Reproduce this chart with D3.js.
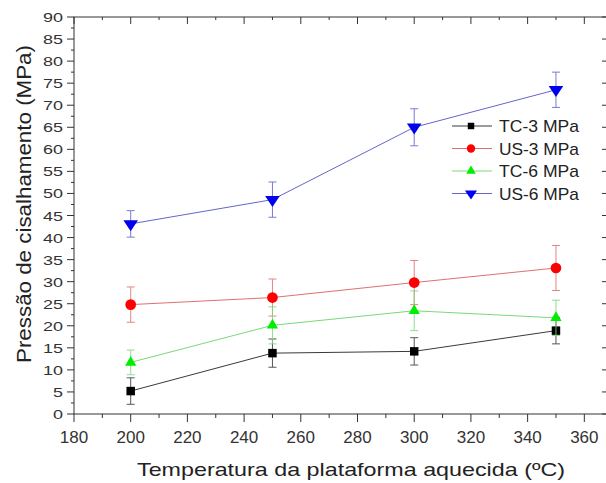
<!DOCTYPE html>
<html>
<head>
<meta charset="utf-8">
<script src="https://cdn.jsdelivr.net/npm/d3@7"></script>
<style>
  body { margin: 0; background: #fff; }
  svg { font-family: "Liberation Sans", Arial, sans-serif; }
</style>
</head>
<body>
<div id="chart"></div>
<script>
// temperatures (ºC)
const temps = [200, 250, 300, 350];
// shear pressure means and error bars (MPa)
const tc3 = [5.2, 13.8, 14.2, 18.9];
const tc3Err = [3.0, 3.2, 3.1, 3.0];
const us3 = [24.8, 26.4, 29.8, 33.1];
const us3Err = [4.0, 4.2, 5.0, 5.1];
const tc6 = [11.7, 20.1, 23.4, 21.8];
const tc6Err = [2.8, 4.2, 4.5, 4.0];
const us6 = [43.1, 48.6, 65.0, 73.5];
const us6Err = [3.0, 4.0, 4.2, 4.0];
const xTicks = [180, 200, 220, 240, 260, 280, 300, 320, 340, 360];
const yTicks = [0, 5, 10, 15, 20, 25, 30, 35, 40, 45, 50, 55, 60, 65, 70, 75, 80, 85, 90];

const series = [
  { name: "TC-3 MPa", values: tc3, err: tc3Err, color: "#000000", line: "#3a3a3a", symbol: d3.symbolSquare, size: 72, leg: 42 },
  { name: "US-3 MPa", values: us3, err: us3Err, color: "#ff0000", line: "#e07070", symbol: d3.symbolCircle, size: 90, leg: 55 },
  { name: "TC-6 MPa", values: tc6, err: tc6Err, color: "#00ee00", line: "#7ad87a", symbol: d3.symbolTriangle, size: 55, leg: 40 },
  { name: "US-6 MPa", values: us6, err: us6Err, color: "#0000ee", line: "#6464cc", symbol: d3.symbolTriangle, size: 70, leg: 48, flip: true },
];

const W = 606, H = 483;
const svg = d3.select("#chart").append("svg").attr("width", W).attr("height", H);

const x = d3.scaleLinear().domain([180, 368]).range([74, 607]);
const y = d3.scaleLinear().domain([0, 90]).range([414, 17]);

const axisColor = "#333";
svg.append("rect")
  .attr("x", x(180)).attr("y", y(90))
  .attr("width", x(368) - x(180)).attr("height", y(0) - y(90))
  .attr("fill", "none").attr("stroke", axisColor);

// bottom axis: major ticks every 20, minor every 10, outward
const xMinor = d3.range(190, 368, 20);
const bottomAxis = svg.append("g").attr("transform", `translate(0,${y(0)})`);
bottomAxis.selectAll(".maj").data(xTicks).join("line")
  .attr("x1", x).attr("x2", x).attr("y1", 0).attr("y2", 8).attr("stroke", axisColor);
bottomAxis.selectAll(".min").data(xMinor).join("line")
  .attr("x1", x).attr("x2", x).attr("y1", 0).attr("y2", 4).attr("stroke", axisColor);
bottomAxis.selectAll("text").data(xTicks).join("text")
  .attr("x", x).attr("y", 29).attr("text-anchor", "middle")
  .attr("font-size", 17).attr("fill", "#333").text((d) => d);

// top axis: ticks inward
const topAxis = svg.append("g").attr("transform", `translate(0,${y(90)})`);
topAxis.selectAll(".maj").data(xTicks).join("line")
  .attr("x1", x).attr("x2", x).attr("y1", 0).attr("y2", 7).attr("stroke", axisColor);
topAxis.selectAll(".min").data(xMinor).join("line")
  .attr("x1", x).attr("x2", x).attr("y1", 0).attr("y2", 3).attr("stroke", axisColor);

// left axis
const yMinor = d3.range(2.5, 90, 5);
const leftAxis = svg.append("g").attr("transform", `translate(${x(180)},0)`);
leftAxis.selectAll(".maj").data(yTicks).join("line")
  .attr("y1", y).attr("y2", y).attr("x1", 0).attr("x2", -7).attr("stroke", axisColor);
leftAxis.selectAll(".min").data(yMinor).join("line")
  .attr("y1", y).attr("y2", y).attr("x1", 0).attr("x2", -3).attr("stroke", axisColor);
leftAxis.selectAll("text").data(yTicks).join("text")
  .attr("x", -11).attr("y", (d) => y(d) + 5).attr("text-anchor", "end")
  .attr("font-size", 13.5).attr("fill", "#333")
  .attr("textLength", (d) => String(d).length * 10)
  .attr("lengthAdjust", "spacingAndGlyphs")
  .text((d) => d);

// right axis ticks inward
const rightAxis = svg.append("g").attr("transform", `translate(${x(368)},0)`);
rightAxis.selectAll(".maj").data(yTicks).join("line")
  .attr("y1", y).attr("y2", y).attr("x1", 0).attr("x2", -5).attr("stroke", axisColor);

// axis titles
svg.append("text")
  .attr("x", 351).attr("y", 476).attr("text-anchor", "middle")
  .attr("font-size", 19).attr("fill", "#222")
  .attr("textLength", 428).attr("lengthAdjust", "spacingAndGlyphs")
  .text("Temperatura da plataforma aquecida (ºC)");
svg.append("text")
  .attr("transform", "translate(31,204) rotate(-90)")
  .attr("text-anchor", "middle")
  .attr("font-size", 21).attr("fill", "#222")
  .attr("textLength", 318).attr("lengthAdjust", "spacingAndGlyphs")
  .text("Pressão de cisalhamento (MPa)");

const line = d3.line().x((d) => x(d[0])).y((d) => y(d[1]));

series.forEach((s) => {
  const g = svg.append("g");
  const pts = temps.map((t, i) => [t, s.values[i], s.err[i]]);
  // error bars
  const eb = g.selectAll(".err").data(pts).join("g").attr("stroke", s.line).attr("stroke-width", 1).attr("opacity", 0.85);
  eb.append("line")
    .attr("x1", (d) => x(d[0])).attr("x2", (d) => x(d[0]))
    .attr("y1", (d) => y(d[1] - d[2])).attr("y2", (d) => y(d[1] + d[2]));
  eb.append("line")
    .attr("x1", (d) => x(d[0]) - 4).attr("x2", (d) => x(d[0]) + 4)
    .attr("y1", (d) => y(d[1] + d[2])).attr("y2", (d) => y(d[1] + d[2]));
  eb.append("line")
    .attr("x1", (d) => x(d[0]) - 4).attr("x2", (d) => x(d[0]) + 4)
    .attr("y1", (d) => y(d[1] - d[2])).attr("y2", (d) => y(d[1] - d[2]));
  g.append("path").attr("d", line(pts)).attr("fill", "none").attr("stroke", s.line).attr("stroke-width", 1);
  g.selectAll(".pt").data(pts).join("path")
    .attr("d", d3.symbol().type(s.symbol).size(s.size))
    .attr("transform", (d) => `translate(${x(d[0])},${y(d[1])})${s.flip ? " scale(1.15,1) rotate(180)" : ""}`)
    .attr("fill", s.color);
});

// legend
const legend = svg.append("g").attr("transform", "translate(452,126)");
series.forEach((s, i) => {
  const row = legend.append("g").attr("transform", `translate(0,${i * 22.5})`);
  row.append("line").attr("x1", 0).attr("x2", 40).attr("y1", 0).attr("y2", 0)
    .attr("stroke", s.line).attr("stroke-width", 1);
  row.append("path")
    .attr("d", d3.symbol().type(s.symbol).size(s.leg))
    .attr("transform", `translate(19,0)${s.flip ? " scale(1.15,1) rotate(180)" : ""}`)
    .attr("fill", s.color);
  row.append("text").attr("x", 47).attr("y", 6)
    .attr("font-size", 17).attr("fill", "#222")
    .attr("textLength", 80).attr("lengthAdjust", "spacingAndGlyphs")
    .text(s.name);
});
</script>
</body>
</html>
